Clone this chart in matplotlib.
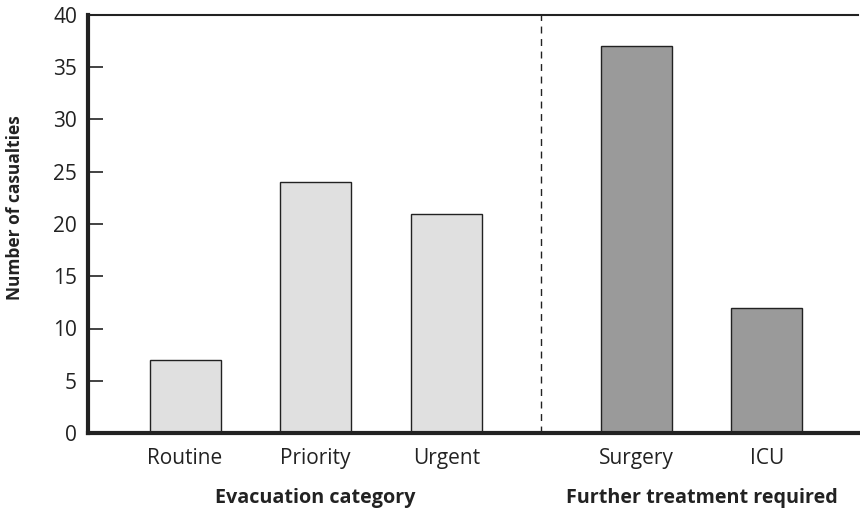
import matplotlib
matplotlib.use("Agg")
import matplotlib.pyplot as plt
import numpy as np

evac_categories = ["Routine", "Priority", "Urgent"]
evac_values = [7, 24, 21]
treat_categories = ["Surgery", "ICU"]
treat_values = [37, 12]
group_labels = ["Evacuation category", "Further treatment required"]
y_ticks = [0, 5, 10, 15, 20, 25, 30, 35, 40]

plt.rcParams['font.family'] = ['Open Sans', 'DejaVu Sans']

fig = plt.figure(figsize=(8.6, 5.13), dpi=100)
ax = fig.add_axes([88/860, 1-433/513, (858-88)/860, (433-15)/513])

group_gap = 1.456
x_evac = np.arange(len(evac_categories))
x_treat = x_evac[-1] + group_gap + np.arange(len(treat_categories))
width = 0.544

ax.bar(x_evac, evac_values, width=width, color="#e0e0e0", edgecolor="#222222", linewidth=1.0)
ax.bar(x_treat, treat_values, width=width, color="#9a9a9a", edgecolor="#222222", linewidth=1.0)

sep = (x_evac[-1] + x_treat[0]) / 2
ax.axvline(sep, color="#222222", linestyle=(0, (5, 4)), linewidth=1.0)

ax.set_xlim(-0.743, x_treat[-1] + 0.697)
ax.set_ylim(0, 40)
ax.set_yticks(y_ticks)
ax.set_yticklabels([str(t) for t in y_ticks], fontsize=15, color="#222222")
ax.tick_params(axis='y', direction='in', length=11, width=1.2, color="#222222", pad=8)
ax.set_xticks(list(x_evac) + list(x_treat))
ax.set_xticklabels(evac_categories + treat_categories, fontsize=15, color="#222222")
ax.tick_params(axis='x', length=0, pad=11)

ax.spines['right'].set_visible(False)
ax.spines['left'].set_linewidth(3)
ax.spines['bottom'].set_linewidth(3)
ax.spines['top'].set_linewidth(1.5)
for s in ax.spines.values():
    s.set_color("#222222")

ax.set_ylabel("Number of casualties", fontsize=12.5, fontweight='bold', color="#222222")
ax.yaxis.set_label_coords(-0.083, 0.538)

trans = ax.get_xaxis_transform()
ax.text(x_evac[1], -0.155, group_labels[0], transform=trans, ha='center', va='center',
        fontsize=14.2, fontweight='bold', color="#222222")
ax.text(np.mean(x_treat), -0.155, group_labels[1], transform=trans, ha='center', va='center',
        fontsize=14.2, fontweight='bold', color="#222222")

fig.savefig("out.png", dpi=100)
